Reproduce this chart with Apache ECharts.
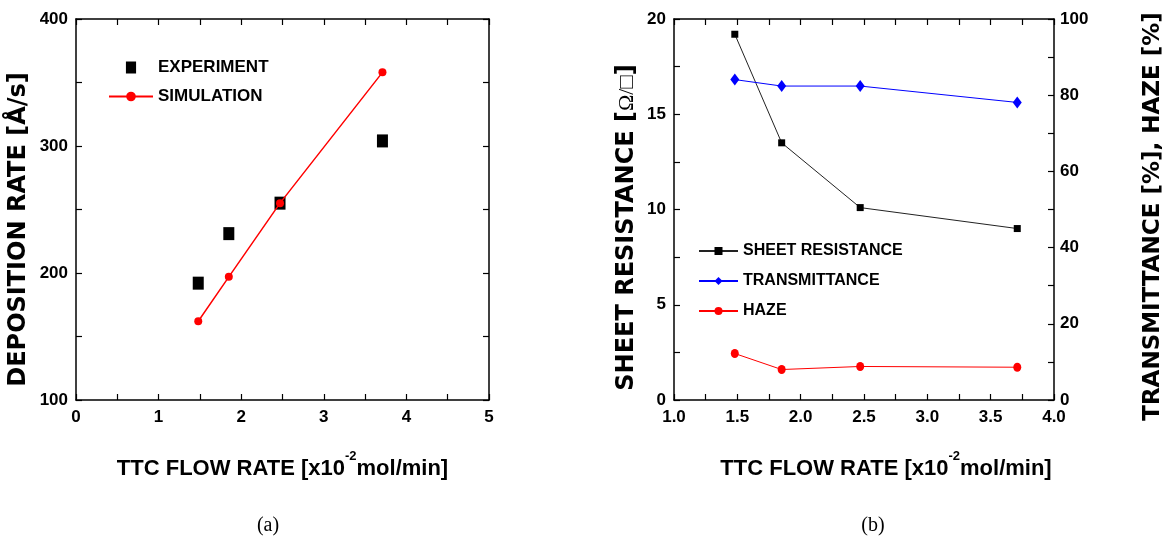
<!DOCTYPE html>
<html><head><meta charset="utf-8">
<script src="https://cdn.jsdelivr.net/npm/echarts@6/dist/echarts.min.js"></script>
<style>html,body{margin:0;padding:0;background:#fff}#c{width:1168px;height:541px}</style>
</head><body><div id="c"></div>
<script>
// ---- data (a) ----
const flowA = [1.48, 1.85, 2.47, 3.71];
const experiment = [192, 231, 255, 304];
const simulation = [162, 197, 255, 358];
// ---- data (b) ----
const flowB = [1.48, 1.85, 2.47, 3.71];
const sheetResistance = [19.2, 13.5, 10.1, 9.0];
const transmittance = [84.1, 82.4, 82.4, 78.1];
const haze = [12.2, 8.0, 8.8, 8.6];
// ---- tick labels ----
const xTickLabelsA = [0, 1, 2, 3, 4, 5];
const yTickLabelsA = [100, 200, 300, 400];
const xTickLabelsB = [1.0, 1.5, 2.0, 2.5, 3.0, 3.5, 4.0];
const yTickLabelsBLeft = [0, 5, 10, 15, 20];
const yTickLabelsBRight = [0, 20, 40, 60, 80, 100];

const zip = (xs, ys) => xs.map((x, i) => [x, ys[i]]);
const has = (arr, v) => arr.some(a => Math.abs(a - v) < 1e-6);

const SANS = "'Liberation Sans', Arial, sans-serif";
const HEAVY = "'DejaVu Sans', sans-serif";
const labelStyle = { fontFamily: SANS, fontWeight: 'bold', fontSize: 17, color: '#000' };
const lineAx = { show: true, onZero: false, lineStyle: { color: '#000', width: 1.5 } };
const tickAx = { show: true, inside: true, length: 6, lineStyle: { color: '#000', width: 1.2 } };

function xTitle() {
  return {
    n: { fontFamily: SANS, fontWeight: 'bold', fontSize: 22, color: '#000' },
    s: { fontFamily: SANS, fontWeight: 'bold', fontSize: 13, color: '#000', padding: [0, 0, 24, 0] }
  };
}
const yTitleStyle = (pad) => ({ fontFamily: HEAVY, fontWeight: 'bold', fontSize: 24, color: '#000', padding: pad });
const SQUARE = 'path://M0 0H11V13H0Z';

const option = {
  backgroundColor: '#fff',
  animation: false,
  grid: [
    { left: 76, right: 679, top: 19, bottom: 141 },
    { left: 674, right: 114, top: 19, bottom: 141 }
  ],
  xAxis: [
    { gridIndex: 0, type: 'value', position: 'bottom', min: 0, max: 5, interval: 0.5,
      axisLine: lineAx, axisTick: tickAx, splitLine: { show: false },
      axisLabel: Object.assign({ margin: 9, formatter: v => has(xTickLabelsA, v) ? String(v) : '' }, labelStyle),
      name: '{n|TTC FLOW RATE [x10}{s|-2}{n|mol/min]}', nameLocation: 'middle', nameGap: 50,
      nameTextStyle: { rich: xTitle() } },
    { gridIndex: 0, type: 'value', position: 'top', min: 0, max: 5, interval: 0.5,
      axisLine: lineAx, axisTick: tickAx, axisLabel: { show: false }, splitLine: { show: false } },
    { gridIndex: 1, type: 'value', position: 'bottom', min: 1, max: 4, interval: 0.25,
      axisLine: lineAx, axisTick: tickAx, splitLine: { show: false },
      axisLabel: Object.assign({ margin: 9, formatter: v => has(xTickLabelsB, v) ? v.toFixed(1) : '' }, labelStyle),
      name: '{n|TTC FLOW RATE [x10}{s|-2}{n|mol/min]}', nameLocation: 'middle', nameGap: 50,
      nameTextStyle: { rich: xTitle(), padding: [0, 0, 0, 44] } },
    { gridIndex: 1, type: 'value', position: 'top', min: 1, max: 4, interval: 0.25,
      axisLine: lineAx, axisTick: tickAx, axisLabel: { show: false }, splitLine: { show: false } }
  ],
  yAxis: [
    { gridIndex: 0, type: 'value', position: 'left', min: 100, max: 400, interval: 50,
      axisLine: lineAx, axisTick: tickAx, splitLine: { show: false },
      axisLabel: Object.assign({ margin: 8, formatter: v => has(yTickLabelsA, v) ? String(v) : '' }, labelStyle),
      name: 'DEPOSITION RATE [Å/s]', nameLocation: 'middle', nameGap: 45,
      nameTextStyle: yTitleStyle([0, 40, 0, 0]) },
    { gridIndex: 0, type: 'value', position: 'right', min: 100, max: 400, interval: 50,
      axisLine: lineAx, axisTick: tickAx, axisLabel: { show: false }, splitLine: { show: false } },
    { gridIndex: 1, type: 'value', position: 'left', min: 0, max: 20, interval: 2.5,
      axisLine: lineAx, axisTick: tickAx, splitLine: { show: false },
      axisLabel: Object.assign({ margin: 8, formatter: v => has(yTickLabelsBLeft, v) ? String(v) : '' }, labelStyle),
      name: '{a|SHEET RESISTANCE [}{b|Ω/□}{a|]}', nameLocation: 'middle', nameGap: 35,
      nameTextStyle: { padding: [0, 36, 0, 0], rich: {
        a: { fontFamily: HEAVY, fontWeight: 'bold', fontSize: 24, color: '#000' },
        b: { fontFamily: "'Liberation Serif', serif", fontWeight: 'normal', fontSize: 22, color: '#000' } } } },
    { gridIndex: 1, type: 'value', position: 'right', min: 0, max: 100, interval: 10,
      axisLine: lineAx, axisTick: tickAx, splitLine: { show: false },
      axisLabel: Object.assign({ margin: 6, formatter: v => has(yTickLabelsBRight, v) ? String(v) : '' }, labelStyle),
      name: 'TRANSMITTANCE [%], HAZE [%]', nameLocation: 'middle', nameGap: 88,
      nameTextStyle: Object.assign(yTitleStyle([0, 14, 0, 0]), { fontSize: 23 }) }
  ],
  legend: [
    { data: [{ name: 'EXPERIMENT', icon: SQUARE }, 'SIMULATION'], orient: 'vertical', left: 103, top: 54,
      itemWidth: 44, itemHeight: 12, itemGap: 12,
      textStyle: { fontFamily: SANS, fontWeight: 'bold', fontSize: 17, color: '#000' } },
    { data: ['SHEET RESISTANCE', 'TRANSMITTANCE', 'HAZE'], orient: 'vertical', left: 693, top: 238,
      itemWidth: 39, itemHeight: 10, itemGap: 14,
      textStyle: { fontFamily: SANS, fontWeight: 'bold', fontSize: 16, color: '#000' } }
  ],
  graphic: [
    { type: 'text', style: { text: '(a)', x: 268, y: 526, align: 'center', verticalAlign: 'middle',
      font: "20px 'Liberation Serif', serif", fill: '#000' } },
    { type: 'text', style: { text: '(b)', x: 873, y: 526, align: 'center', verticalAlign: 'middle',
      font: "20px 'Liberation Serif', serif", fill: '#000' } }
  ],
  series: [
    { name: 'EXPERIMENT', type: 'scatter', xAxisIndex: 0, yAxisIndex: 0, data: zip(flowA, experiment),
      symbol: 'rect', symbolSize: [11, 13], itemStyle: { color: '#000', opacity: 1 } },
    { name: 'SIMULATION', type: 'line', xAxisIndex: 0, yAxisIndex: 0, data: zip(flowA, simulation),
      symbol: 'circle', symbolSize: 8, itemStyle: { color: '#ff0000' }, lineStyle: { color: '#ff0000', width: 1.5 } },
    { name: 'SHEET RESISTANCE', type: 'line', xAxisIndex: 2, yAxisIndex: 2, data: zip(flowB, sheetResistance),
      symbol: 'rect', symbolSize: 7, itemStyle: { color: '#000' }, lineStyle: { color: '#222', width: 1 } },
    { name: 'TRANSMITTANCE', type: 'line', xAxisIndex: 2, yAxisIndex: 3, data: zip(flowB, transmittance),
      symbol: 'diamond', symbolSize: [9, 12], itemStyle: { color: '#0000ff' }, lineStyle: { color: '#0000ff', width: 1 } },
    { name: 'HAZE', type: 'line', xAxisIndex: 2, yAxisIndex: 3, data: zip(flowB, haze),
      symbol: 'circle', symbolSize: [8, 9], itemStyle: { color: '#ff0000' }, lineStyle: { color: '#ff0000', width: 1 } }
  ]
};
const chart = echarts.init(document.getElementById('c'), null, { renderer: 'canvas' });
chart.setOption(option);
</script>
</body></html>
